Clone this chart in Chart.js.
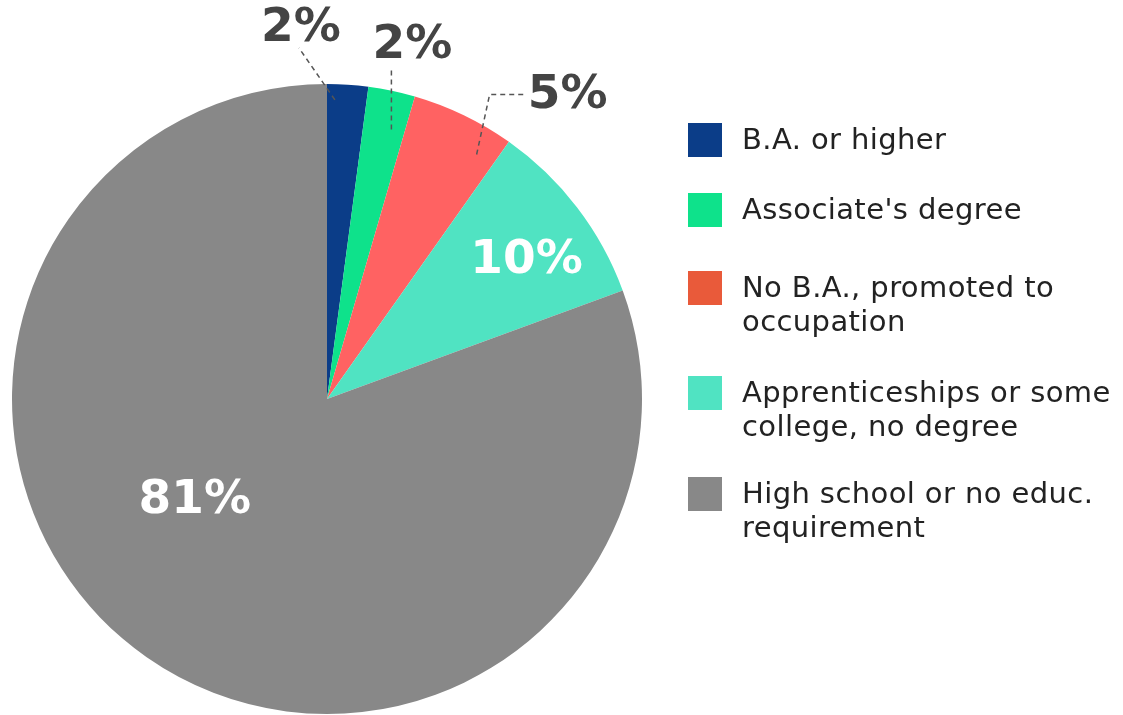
<!DOCTYPE html>
<html>
<head>
<meta charset="utf-8">
<script src="https://cdn.jsdelivr.net/npm/chart.js@4"></script>
<style>
  body { margin: 0; background: #fff; }
  #wrap { position: relative; width: 1123px; height: 715px; }
  #legend { position: absolute; left: 688px; top: 0; font-family: "DejaVu Sans", sans-serif; font-size: 29px; letter-spacing: 0.4px; color: #222; }
  .item { position: absolute; left: 0; display: flex; width: 440px; }
  .box { width: 34px; height: 34px; flex: none; margin-right: 20px; }
  .txt { line-height: 34px; margin-top: -1px; white-space: nowrap; }
</style>
</head>
<body>
<div id="wrap">
  <canvas id="pie-chart" width="1123" height="715"></canvas>
  <div id="legend"></div>
</div>
<script>
// datos
const categorias = [
  "B.A. or higher",
  "Associate's degree",
  "No B.A., promoted to occupation",
  "Apprenticeships or some college, no degree",
  "High school or no educ. requirement"
]
const leyenda = [
  ["B.A. or higher"],
  ["Associate's degree"],
  ["No B.A., promoted to", "occupation"],
  ["Apprenticeships or some", "college, no degree"],
  ["High school or no educ.", "requirement"]
]
const valores = [2.1, 2.4, 5.3, 9.6, 80.6]
const etiquetas = ["2%", "2%", "5%", "10%", "81%"]

const coloresPie = ["#0b3d88", "#0ee28b", "#ff6262", "#50e3c2", "#888888"]
const coloresLeyenda = ["#0b3d88", "#0ee28b", "#e95a3a", "#50e3c2", "#888888"]

// posicion de las etiquetas: at = fraccion del angulo, r = fraccion del radio
const estiloEtiquetas = [
  { at: 0.2, r: 0.95, color: "#444", path: [[-36, -52]], text: [-34, -71] },
  { at: 0.68, r: 0.88, color: "#444", path: [[0, -62]], text: [21, -84] },
  { at: 0.8, r: 0.91, color: "#444", path: [[13, -60], [49, -60]], text: [91, -59] },
  { at: 0.58, r: 0.77, color: "#fff" },
  { at: 0.56, r: 0.53, color: "#fff" }
]

// leyenda en html
const legendEl = document.querySelector("#legend")
const topes = [123, 193, 271, 376, 477]
leyenda.forEach((lineas, i) => {
  const item = document.createElement("div")
  item.className = "item"
  item.style.top = topes[i] + "px"
  item.innerHTML = '<div class="box" style="background:' + coloresLeyenda[i] + '"></div>' +
    '<div class="txt">' + lineas.join("<br>") + "</div>"
  legendEl.appendChild(item)
})

const pluginEtiquetas = {
  id: "etiquetas",
  afterDatasetsDraw(chart) {
    const ctx = chart.ctx
    const arcs = chart.getDatasetMeta(0).data
    arcs.forEach((arc, i) => {
      const p = arc.getProps(["x", "y", "startAngle", "endAngle", "outerRadius"], true)
      const est = estiloEtiquetas[i]
      const ang = p.startAngle + (p.endAngle - p.startAngle) * est.at
      const ax = p.x + Math.cos(ang) * p.outerRadius * est.r
      const ay = p.y + Math.sin(ang) * p.outerRadius * est.r
      ctx.save()
      ctx.font = "bold 47px 'DejaVu Sans'"
      ctx.textAlign = "center"
      ctx.textBaseline = "middle"
      ctx.fillStyle = est.color
      if (est.path) {
        ctx.strokeStyle = "#555"
        ctx.lineWidth = 1.5
        ctx.setLineDash([5, 4])
        ctx.beginPath()
        ctx.moveTo(ax, ay)
        est.path.forEach(pt => ctx.lineTo(ax + pt[0], ay + pt[1]))
        ctx.stroke()
        ctx.fillText(etiquetas[i], ax + est.text[0], ay + est.text[1])
      } else {
        ctx.fillText(etiquetas[i], ax, ay)
      }
      ctx.restore()
    })
  }
}

const contenedorPie = document.querySelector("#pie-chart").getContext("2d")

const pieChart = new Chart(contenedorPie, {
  type: "pie",
  data: {
    labels: categorias,
    datasets: [{
      data: valores,
      backgroundColor: coloresPie,
      borderWidth: 0
    }]
  },
  options: {
    responsive: false,
    animation: false,
    layout: { padding: { left: 12, top: 84, right: 481, bottom: 1 } },
    plugins: {
      legend: { display: false },
      tooltip: { enabled: false }
    }
  },
  plugins: [pluginEtiquetas]
})
</script>
</body>
</html>
